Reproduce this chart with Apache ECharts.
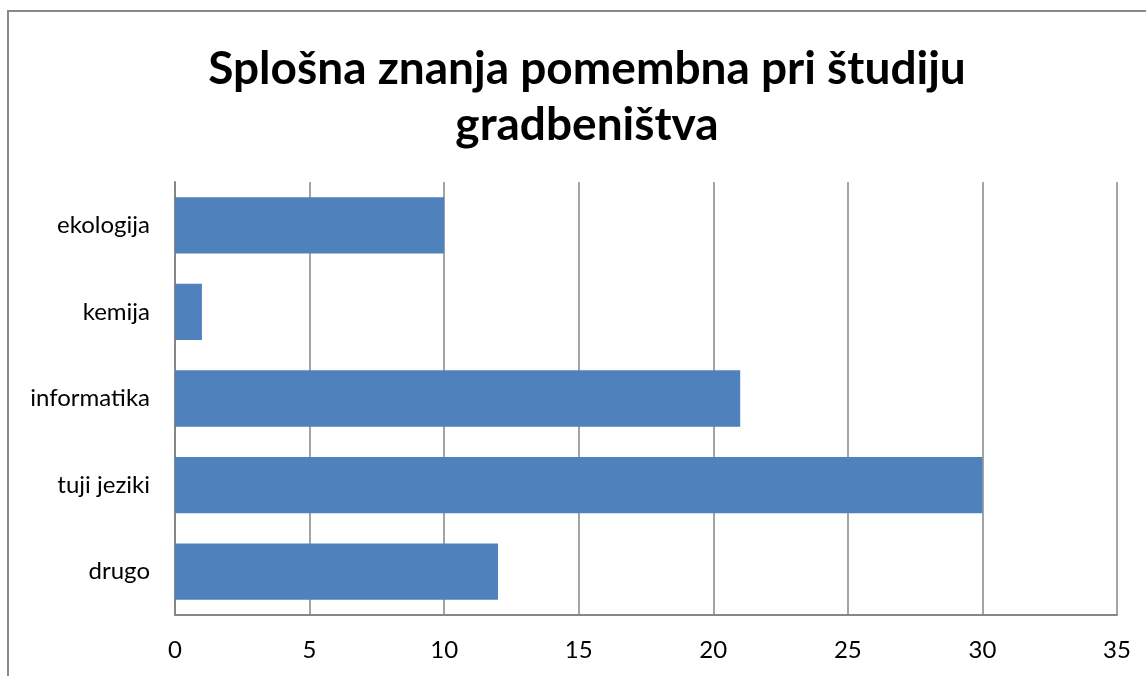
<!DOCTYPE html>
<html>
<head>
<meta charset="utf-8">
<script src="https://cdn.jsdelivr.net/npm/echarts@6/dist/echarts.min.js"></script>
<style>
  html, body { margin: 0; padding: 0; background: #fff; }
  #chart { width: 1146px; height: 676px; }
</style>
</head>
<body>
<div id="chart"></div>
<script>
// categories listed bottom-to-top, as ECharts draws a category yAxis
const categories = ['drugo', 'tuji jeziki', 'informatika', 'kemija', 'ekologija'];
const values     = [12, 30, 21, 1, 10];
const titleText  = 'Splošna znanja pomembna pri študiju\ngradbeništva';

const chart = echarts.init(document.getElementById('chart'), null, { renderer: 'canvas' });

const font = 'Lato, "Open Sans", sans-serif';

chart.setOption({
    animation: false,
    graphic: [{
        type: 'rect',
        shape: { x: 8, y: 11, width: 1200, height: 720 },
        style: { fill: 'none', stroke: '#898989', lineWidth: 2 },
        silent: true
    }],
    title: {
        text: titleText,
        left: 582,
        top: 36,
        textAlign: 'center',
        textStyle: {
            fontFamily: font,
            fontWeight: 'bold',
            fontSize: 46,
            lineHeight: 56,
            color: '#000'
        }
    },
    grid: { left: 175, top: 182, right: 29, bottom: 61, containLabel: false },
    xAxis: {
        type: 'value',
        min: 0,
        max: 35,
        interval: 5,
        axisLine: { show: true, lineStyle: { color: '#868686', width: 2 } },
        axisTick: { show: false },
        splitLine: { show: true, lineStyle: { color: '#868686', width: 1.5 } },
        axisLabel: { color: '#000', fontFamily: font, fontSize: 24, margin: 23 }
    },
    yAxis: {
        type: 'category',
        data: categories,
        axisLine: { show: true, lineStyle: { color: '#868686', width: 2 } },
        axisTick: { show: false },
        axisLabel: { color: '#000', fontFamily: font, fontSize: 24, margin: 25 }
    },
    series: [{
        type: 'bar',
        data: values,
        barCategoryGap: '35%',
        itemStyle: { color: '#4F81BD' }
    }]
});
</script>
</body>
</html>
